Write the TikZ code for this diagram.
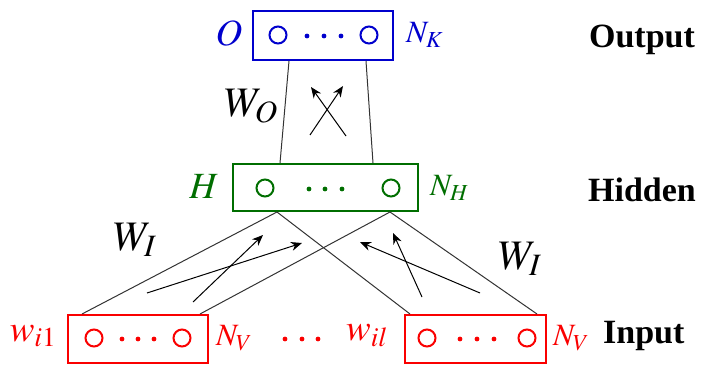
\documentclass[tikz,border=0pt]{standalone}
\usepackage{mathptmx}
\usepackage{fontspec}
\setmainfont{Liberation Serif}
\usetikzlibrary{arrows.meta}

\definecolor{outblue}{RGB}{0,0,205}
\definecolor{hidgreen}{RGB}{0,110,0}
\definecolor{inred}{RGB}{250,0,0}

\tikzset{
  layer/.style={draw, line width=2pt, inner sep=0pt},
  unit/.style={circle, draw, line width=2pt, minimum size=17pt, inner sep=0pt},
  link/.style={line width=1pt, black!80},
  flow/.style={line width=1pt, -{Stealth[length=11pt,width=9pt]}},
  biglbl/.style={font=\fontsize{37}{42}\selectfont},
  wlbl/.style={font=\fontsize{42}{46}\selectfont},
  sizelbl/.style={font=\fontsize{31}{36}\selectfont, anchor=west, inner sep=0pt},
  tag/.style={font=\fontsize{34}{38}\selectfont\bfseries},
}

\begin{document}
\begin{tikzpicture}[x=1pt, y=-1pt]
  \useasboundingbox (0,0) rectangle (701,364);

  % layers
  \node[layer, outblue, minimum width=140pt, minimum height=49pt] (out) at (323,35.5) {};
  \node[layer, hidgreen, minimum width=185pt, minimum height=47pt] (hid) at (325.5,187.5) {};
  \node[layer, inred, minimum width=140pt, minimum height=48pt] (inl) at (138,339) {};
  \node[layer, inred, minimum width=141pt, minimum height=48pt] (inr) at (475.5,339) {};

  % units
  \node[unit, outblue] (o1) at (278,35) {};
  \node[unit, outblue] (o2) at (369,35) {};
  \node[unit, hidgreen] (h1) at (265,188) {};
  \node[unit, hidgreen] (h2) at (391,188) {};
  \node[unit, inred] (l1) at (94,338) {};
  \node[unit, inred] (l2) at (182,338) {};
  \node[unit, inred] (r1) at (427,338) {};
  \node[unit, inred] (r2) at (527,338) {};
  \foreach \x in {307,324,341} { \fill[outblue] (\x,36) circle (2.4pt); }
  \foreach \x in {309,325,342} { \fill[hidgreen] (\x,189) circle (2.4pt); }
  \foreach \x in {122,138,154, 285,302,318} { \fill[inred] (\x,339) circle (2.4pt); }
  \foreach \x in {460,477,494} { \fill[inred] (\x,339) circle (2.4pt); }

  % connections between layers
  \coordinate (ob1) at (289,61);  \coordinate (ob2) at (366,61);
  \coordinate (ht1) at (280,163); \coordinate (ht2) at (373,163);
  \coordinate (hb1) at (277,212); \coordinate (hb2) at (390,212);
  \coordinate (il1) at (82,314);  \coordinate (il2) at (200,314);
  \coordinate (ir1) at (410,314); \coordinate (ir2) at (537,314);
  \draw[link] (ob1) -- (ht1);
  \draw[link] (ob2) -- (ht2);
  \draw[link] (il1) -- (hb1) -- (ir1);
  \draw[link] (il2) -- (hb2) -- (ir2);

  % direction arrows
  \coordinate (a1) at (310,135); \coordinate (a2) at (343,86);
  \coordinate (a3) at (346,136); \coordinate (a4) at (311,87);
  \coordinate (b1) at (193,302); \coordinate (b2) at (263,235);
  \coordinate (b3) at (147,293); \coordinate (b4) at (302,243);
  \coordinate (c1) at (422,297); \coordinate (c2) at (393,233);
  \coordinate (c3) at (480,293); \coordinate (c4) at (360,242);
  \draw[flow] (a1) -- (a2);
  \draw[flow] (a3) -- (a4);
  \draw[flow] (b1) -- (b2);
  \draw[flow] (b3) -- (b4);
  \draw[flow] (c1) -- (c2);
  \draw[flow] (c3) -- (c4);

  % labels
  \node[biglbl, outblue] (olbl) at (229,33) {$O$};
  \node[biglbl, hidgreen] (hlbl) at (204,186) {$H$};
  \node[biglbl, inred] (wfirst) at (33,336) {$w_{i1}$};
  \node[biglbl, inred] (wlast) at (367,336) {$w_{il}$};
  \node[sizelbl, outblue] (nk) at (406,35) {$N_K$};
  \node[sizelbl, hidgreen] (nh) at (430,188) {$N_H$};
  \node[sizelbl, inred] (nvl) at (216,338) {$N_V$};
  \node[sizelbl, inred] (nvr) at (553,338) {$N_V$};
  \node[wlbl] (wo) at (251,106) {$W_O$};
  \node[wlbl] (wil) at (135,240) {$W_I$};
  \node[wlbl] (wir) at (520,259) {$W_I$};
  \node[tag] (outtag) at (642,40) {Output};
  \node[tag] (hidtag) at (642,190) {Hidden};
  \node[tag, anchor=west, inner sep=0pt] (intag) at (603,336) {Input};
\end{tikzpicture}
\end{document}
